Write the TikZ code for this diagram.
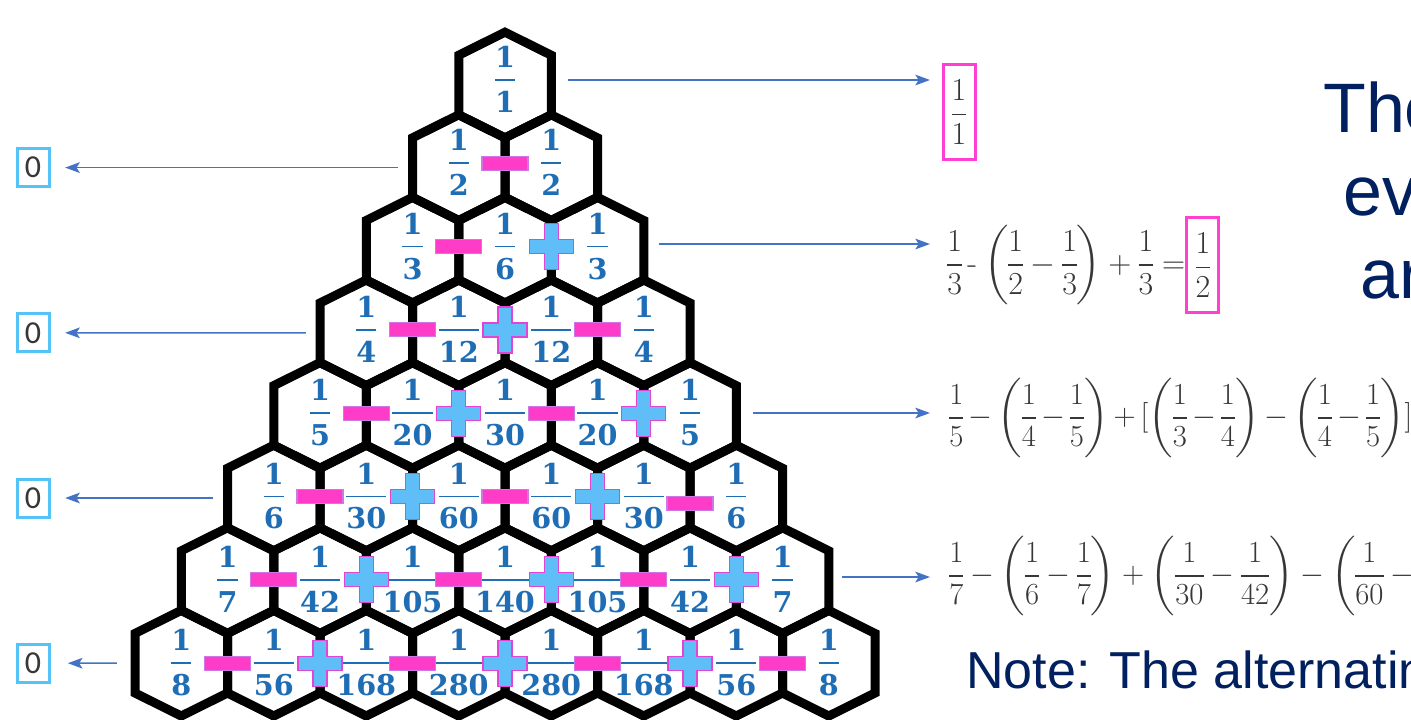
\RequirePackage{fix-cm}
\documentclass[tikz,border=0pt]{standalone}
\usepackage{amsmath}
\usepackage{fontspec}
\usetikzlibrary{calc,arrows.meta}
\newfontfamily\hexfont{DejaVu Serif}
\newfontfamily\arialf{Liberation Sans}
\newfontfamily\calf{Carlito}
\definecolor{fracblue}{RGB}{31,110,181}
\definecolor{minusfill}{RGB}{255,60,200}
\definecolor{minusedge}{RGB}{205,120,230}
\definecolor{plusfill}{RGB}{95,190,248}
\definecolor{plusedge}{RGB}{225,70,210}
\definecolor{arrowblue}{RGB}{68,114,196}
\definecolor{zeroedge}{RGB}{85,195,245}
\definecolor{boxpink}{RGB}{255,64,208}
\definecolor{navyt}{RGB}{0,32,96}
\definecolor{fgray}{RGB}{55,55,55}
\setlength{\nulldelimiterspace}{0pt}
\delimitershortfall=0pt
\delimiterfactor=950
\begin{document}
\begin{tikzpicture}[x=0.75pt,y=-0.75pt,
  hexline/.style={draw=black,line width=6.75pt,line join=miter},
  hexbox/.style={rectangle,draw=none,minimum width=69.4pt,minimum height=79.2pt,inner sep=0pt,outer sep=0pt},
  numtxt/.style={inner sep=0pt,text=fracblue,font=\hexfont\bfseries\fontsize{21.5}{24}\selectfont},
  fbar/.style={draw=fracblue,line width=1.3pt},
  minussign/.style={rectangle,fill=minusfill,draw=minusedge,line width=0.8pt,minimum width=34.5pt,minimum height=10.5pt,inner sep=0pt},
  plussign/.style={fill=plusfill,draw=plusedge,line width=0.9pt},
  arr/.style={draw=arrowblue,line width=1.1pt,-{Stealth[length=11pt,width=8pt,inset=2.5pt]}},
  zerobox/.style={rectangle,draw=zeroedge,line width=2.25pt,minimum width=24pt,minimum height=28.5pt,inner sep=0pt,text=fgray,font=\calf\fontsize{24}{26}\selectfont},
  mbox/.style={rectangle,draw=boxpink,line width=2.25pt,minimum width=24pt,minimum height=71pt,inner sep=0pt,text=fgray,font=\fontsize{24}{29}\selectfont},
  fml/.style={inner sep=0pt,text=fgray,font=\fontsize{24}{29}\selectfont},
  fmlsmall/.style={inner sep=0pt,text=fgray,font=\fontsize{23}{28}\selectfont},
  titletxt/.style={inner sep=0pt,text=navyt,font=\arialf\fontsize{52.5}{60}\selectfont},
  notetxt/.style={inner sep=0pt,text=navyt,font=\arialf\fontsize{39}{46}\selectfont}
]
\useasboundingbox (0,0) rectangle (1411,719);
\clip (0,0) rectangle (1411,719);
\fill[white] (0,0) rectangle (1411,719);

% hexagons
\foreach \r/\dl in {1/{1},2/{2,2},3/{3,6,3},4/{4,12,12,4},5/{5,20,30,20,5},6/{6,30,60,60,30,6},7/{7,42,105,140,105,42,7},8/{8,56,168,280,280,168,56,8}}{
  \pgfmathsetmacro\yc{85+82.6*(\r-1)}
  \foreach \d [count=\k] in \dl {
    \pgfmathsetmacro\xc{505+(\k-(\r+1)/2)*92.5}
    \node[hexbox] (h\r-\k) at (\xc,\yc) {};
    \draw[hexline] (\xc,\yc-52.8) -- (\xc+46.25,\yc-29.8) -- (\xc+46.25,\yc+29.8) -- (\xc,\yc+52.8) -- (\xc-46.25,\yc+29.8) -- (\xc-46.25,\yc-29.8) -- cycle;
  }
}

% fractions
\foreach \r/\dl in {1/{1},2/{2,2},3/{3,6,3},4/{4,12,12,4},5/{5,20,30,20,5},6/{6,30,60,60,30,6},7/{7,42,105,140,105,42,7},8/{8,56,168,280,280,168,56,8}}{
  \pgfmathsetmacro\yb{85+82.6*(\r-1)-5+0.7*(\r-1)}
  \foreach \d [count=\k] in \dl {
    \pgfmathsetmacro\xc{505+(\k-(\r+1)/2)*92.5}
    \node[numtxt] (n\r-\k) at (\xc,\yb-23) {1};
    \node[numtxt] (d\r-\k) at (\xc,\yb+22) {\d};
    \draw[fbar] (d\r-\k.west |- 0,\yb) -- (d\r-\k.east |- 0,\yb);
  }
}

% signs
\foreach \r in {2,...,8}{
  \pgfmathsetmacro\yb{85+82.6*(\r-1)-5+0.7*(\r-1)}
  \pgfmathtruncatemacro\kmax{\r-1}
  \foreach \k in {1,...,\kmax}{
    \pgfmathsetmacro\xs{505+(\k-(\r+1)/2)*92.5+46.25}
    \pgfmathsetmacro\ys{\yb+((\r==6)&&(\k==5)?7:0)}
    \ifodd\k
      \node[minussign] (s\r-\k) at (\xs,\ys) {};
    \else
      \draw[plussign] (\xs-7,\ys-23) -- (\xs+7,\ys-23) -- (\xs+7,\ys-7) -- (\xs+22,\ys-7) -- (\xs+22,\ys+7) -- (\xs+7,\ys+7) -- (\xs+7,\ys+23) -- (\xs-7,\ys+23) -- (\xs-7,\ys+7) -- (\xs-22,\ys+7) -- (\xs-22,\ys-7) -- (\xs-7,\ys-7) -- cycle;
    \fi
  }
}

% zero boxes and left arrows
\node[zerobox] (z2) at (33,167.6) {0};
\node[zerobox] (z4) at (33,332.8) {0};
\node[zerobox] (z6) at (33,498) {0};
\node[zerobox] (z8) at (33,663.2) {0};
\draw[arr,shorten >=11pt] (h2-1.west) ++(-14,0) -- (z2);
\draw[arr,shorten >=11pt] (h4-1.west) ++(-14,0) -- (z4);
\draw[arr,shorten >=11pt] (h6-1.west) ++(-14,0) -- (z6);
\draw[arr,shorten >=13pt] (h8-1.west) ++(-18,0) -- (z8);

% right formulas
\node[mbox] (f1) at (959,112) {$\dfrac{1}{1}$};
\node[fml,anchor=west] (f3) at (947,265) {$\displaystyle\frac{1}{3}\mkern3mu\text{-}\mkern1mu\left(\frac{1}{2}-\frac{1}{3}\right)+\frac{1}{3}=$};
\node[mbox,anchor=west] (f3b) at (f3.east) {$\dfrac{1}{2}$};
\node[fmlsmall,anchor=west] (f5) at (949,418) {$\medmuskip=3mu\displaystyle\frac{1}{5}-\left(\frac{1}{4}-\frac{1}{5}\right)+[\left(\frac{1}{3}-\frac{1}{4}\right)-\left(\frac{1}{4}-\frac{1}{5}\right)]$};
\node[fmlsmall,anchor=west] (f7) at (949,576) {$\displaystyle\frac{1}{7}-\left(\frac{1}{6}-\frac{1}{7}\right)+\left(\frac{1}{30}-\frac{1}{42}\right)-\left(\frac{1}{60}-{}\right.$};

% right arrows
\coordinate (t1) at (930,80);
\coordinate (t3) at (930,244);
\coordinate (t5) at (930,413);
\coordinate (t7) at (930,577);
\draw[arr] (h1-1.east |- t1) ++(17,0) -- (t1);
\draw[arr] (h3-3.east |- t3) ++(15,0) -- (t3);
\draw[arr] (h5-5.east |- t5) ++(17,0) -- (t5);
\draw[arr] (h7-7.east |- t7) ++(13,0) -- (t7);

% texts
\node[titletxt,anchor=base west] (ti1) at (1323,132) {The};
\node[titletxt,anchor=base west] (ti2) at (1343,215) {ev};
\node[titletxt,anchor=base west] (ti3) at (1360,298) {ar};
\node[notetxt,anchor=base west] (note) at (966,688) {Note: The alternatin};
\end{tikzpicture}
\end{document}
